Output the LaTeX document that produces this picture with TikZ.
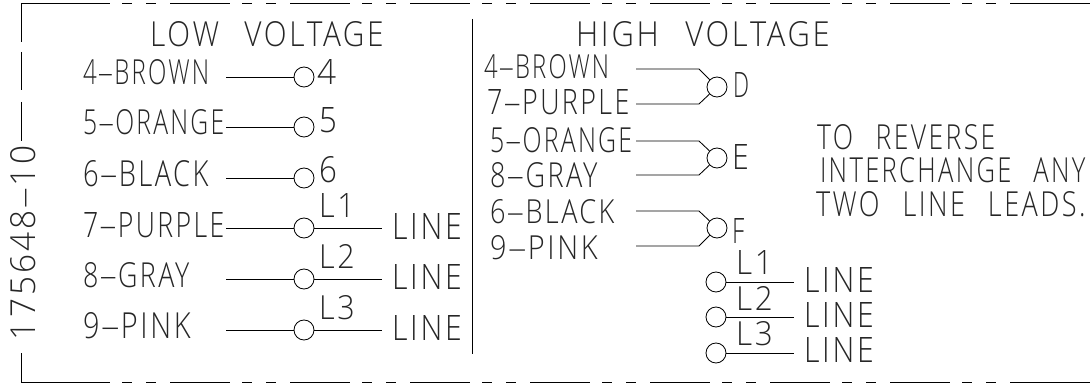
\documentclass[tikz,border=0pt]{standalone}
\usepackage{fontspec}
\usepackage{graphicx}
\setmainfont[LetterSpace=9]{Open Sans Light}
\newcommand{\hy}{\scalebox{2.3}[1]{-}}
\newcommand{\gp}{\hspace{0.85em}}
\tikzset{
  wire/.style={draw=black,line width=0.85pt},
  term/.style={circle,draw=black,line width=0.85pt,minimum size=20pt,inner sep=0pt},
  lbl/.style={inner sep=0pt,outer sep=0pt,anchor=base west,text=black!85},
}
% name, x0, x1, baseline, top, text
\newcommand{\txt}[6]{\node[lbl] (#1) at (#2-1,#4) {\resizebox{\dimexpr #3pt-#2pt\relax}{\dimexpr #4pt-#5pt\relax}{#6\kern-0.09em}};}
\begin{document}
\begin{tikzpicture}[x=1pt,y=-1pt]
\useasboundingbox (0,0) rectangle (1090,385);
% frame
\coordinate (tl) at (21,3); \coordinate (tsa) at (110,3); \coordinate (tsb) at (1010,3); \coordinate (tr) at (1090,3);
\coordinate (bl) at (21,382); \coordinate (bsa) at (110,382); \coordinate (bsb) at (1010,382); \coordinate (br) at (1090,382);
\draw[wire] (21,42) -- (tl) -- (tsa);
\draw[wire] (tsb) -- (tr);
\draw[wire] (21,353) -- (bl) -- (bsa);
\draw[wire] (bsb) -- (br);
\draw[wire,dash pattern=on 60pt off 12pt on 10pt off 14pt on 10pt off 14pt,dash phase=60pt] (tsa) -- (tsb);
\draw[wire,dash pattern=on 60pt off 12pt on 10pt off 14pt on 10pt off 14pt,dash phase=60pt] (bsa) -- (bsb);
\draw[wire] (21,52) -- (21,90);
\draw[wire] (21,102) -- (21,141);
% divider
\coordinate (da) at (472,19); \coordinate (db) at (472,354);
\draw[wire] (da) -- (db);
% drawing number
\node[lbl,rotate=90] (num) at (35,340) {\resizebox{192pt}{25pt}{175648\hy 10\kern-0.09em}};
% low voltage
\txt{lowt}{151}{382}{47}{22}{LOW\gp VOLTAGE}
\txt{la}{84}{208}{85}{60}{4\hy BROWN}
\txt{lb}{84}{223}{135}{110}{5\hy ORANGE}
\txt{lc}{84}{207}{186}{160}{6\hy BLACK}
\txt{ld}{84}{223}{237}{212}{7\hy PURPLE}
\txt{le}{84}{188}{287}{262}{8\hy GRAY}
\txt{lf}{84}{189}{338}{312}{9\hy PINK}
\foreach \n/\y in {1/77,2/127,3/178,4/228,5/279,6/330}{
  \node[term] (c\n) at (304,\y) {};
  \coordinate (s\n) at (226,\y);
  \draw[wire] (s\n) -- (c\n);
}
\foreach \n/\y in {4/228,5/279,6/330}{
  \coordinate (e\n) at (382,\y);
  \draw[wire] (c\n) -- (e\n);
}
\txt{na}{318}{334}{85}{60}{4}
\txt{nb}{320}{335}{132}{107}{5}
\txt{nc}{320}{335}{183}{157}{6}
\txt{ga}{320}{353}{217}{193}{L1}
\txt{gb}{320}{353}{268}{244}{L2}
\txt{gc}{320}{353}{319}{295}{L3}
\txt{lia}{393}{460}{239}{213}{LINE}
\txt{lib}{393}{460}{289}{264}{LINE}
\txt{lic}{393}{460}{340}{315}{LINE}
% high voltage
\txt{hight}{577}{828}{47}{22}{HIGH\gp VOLTAGE}
\txt{ha}{485}{608}{79}{55}{4\hy BROWN}
\txt{hb}{488}{628}{115}{90}{7\hy PURPLE}
\txt{hc}{491}{631}{153}{128}{5\hy ORANGE}
\txt{hd}{491}{596}{188}{163}{8\hy GRAY}
\txt{he}{491}{613}{223}{199}{6\hy BLACK}
\txt{hf}{491}{596}{259}{235}{9\hy PINK}
\foreach \n/\yt/\yc/\yb in {D/69/87/104,E/141/158/175,F/211/228/246}{
  \node[term] (j\n) at (717,\yc) {};
  \coordinate (pa\n) at (636,\yt); \coordinate (ka\n) at (699,\yt);
  \coordinate (pb\n) at (636,\yb); \coordinate (kb\n) at (699,\yb);
  \draw[wire] (pa\n) -- (ka\n) -- (j\n);
  \draw[wire] (pb\n) -- (kb\n) -- (j\n);
}
\txt{dd}{734}{748}{98}{73}{D}
\txt{de}{733}{747}{170}{145}{E}
\txt{df}{733}{743}{243}{218}{F}
\foreach \n/\y in {1/282,2/317,3/353}{
  \node[term] (r\n) at (716,\y) {};
  \coordinate (q\n) at (794,\y);
  \draw[wire] (r\n) -- (q\n);
}
\txt{ra}{737}{771}{274}{250}{L1}
\txt{rb}{737}{771}{310}{286}{L2}
\txt{rc}{737}{771}{345}{321}{L3}
\txt{ria}{805}{872}{292}{267}{LINE}
\txt{rib}{805}{872}{327}{302}{LINE}
\txt{ric}{805}{872}{362}{337}{LINE}
% note
\txt{noa}{818}{994}{150}{125}{TO\gp REVERSE}
\txt{nob}{821}{1084}{183}{158}{INTERCHANGE\gp ANY}
\txt{noc}{817}{1084}{216}{191}{TWO\gp LINE\gp LEADS.}
\end{tikzpicture}
\end{document}
